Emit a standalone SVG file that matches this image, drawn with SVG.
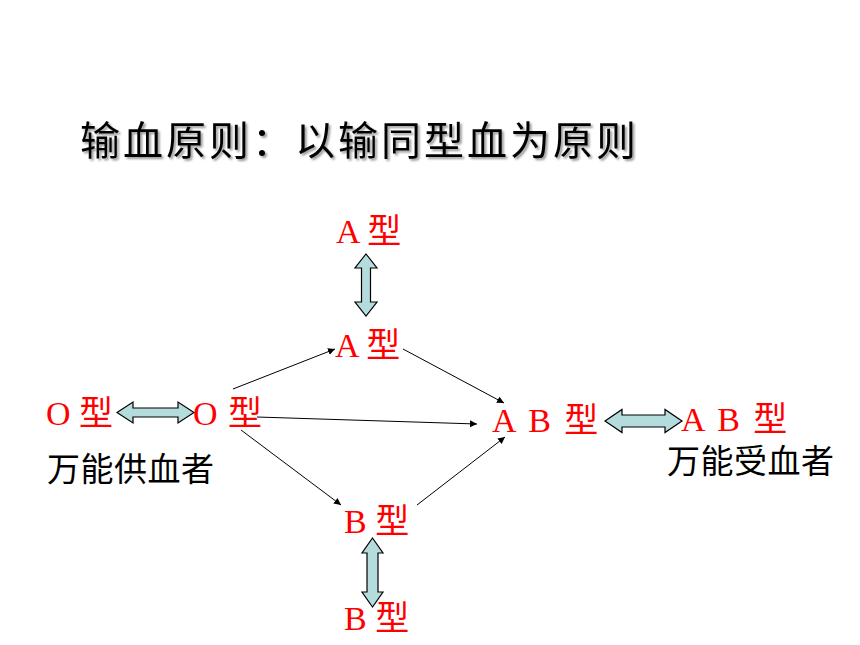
<svg xmlns="http://www.w3.org/2000/svg" width="860" height="645" viewBox="0 0 860 645">
<defs>
<marker id="ah" viewBox="0 0 10 10" refX="10" refY="5" markerWidth="7" markerHeight="7" markerUnits="userSpaceOnUse" orient="auto">
<path d="M0,0 L10,5 L0,10 Z" fill="#000"/>
</marker>
<filter id="sh" x="-5%" y="-20%" width="110%" height="150%">
<feGaussianBlur in="SourceAlpha" stdDeviation="1"/>
<feOffset dx="2" dy="2" result="b"/>
<feFlood flood-color="#000" flood-opacity="0.4"/>
<feComposite in2="b" operator="in"/>
<feMerge><feMergeNode/><feMergeNode in="SourceGraphic"/></feMerge>
</filter>
<style>
.t{font-family:"Noto Sans CJK SC","Liberation Sans",sans-serif;font-size:40px;letter-spacing:3px;fill:#000}
.r{font-family:"Liberation Serif","Noto Sans CJK SC",serif;font-size:34px;fill:#ff0000;white-space:pre}
.ab{letter-spacing:2.5px}
.k{font-family:"Noto Sans CJK SC","Liberation Sans",sans-serif;font-size:33px;letter-spacing:0.5px;fill:#000}
.ln{stroke:#000;stroke-width:1;fill:none;marker-end:url(#ah)}
.ba{fill:#b4dcdc;stroke:#000;stroke-width:1.2}
</style>
</defs>
<rect width="860" height="645" fill="#fff"/>
<g id="title">
<text class="t" x="80" y="155" filter="url(#sh)">输血原则：以输同型血为原则</text>
</g>
<g id="connectors">
<line class="ln" x1="233" y1="389" x2="335" y2="349"/>
<line class="ln" x1="403" y1="349" x2="504" y2="403"/>
<line class="ln" x1="257" y1="417" x2="477" y2="424"/>
<line class="ln" x1="241" y1="430" x2="341" y2="505"/>
<line class="ln" x1="417" y1="505" x2="505" y2="437"/>
<path class="ba" d="M117,412.5 L133,402 L133,408 L178,408 L178,402 L194,412.5 L178,423 L178,417 L133,417 L133,423 Z"/>
<path class="ba" d="M605,421 L622,409.5 L622,415 L665,415 L665,409.5 L682,421 L665,432.5 L665,427 L622,427 L622,432.5 Z"/>
<path class="ba" d="M366,254 L377,268 L370.5,268 L370.5,302 L377,302 L366,316 L355,302 L361.5,302 L361.5,268 L355,268 Z"/>
<path class="ba" d="M372.5,538 L383,553 L378,553 L378,592 L383,592 L372.5,607 L362,592 L367,592 L367,553 L362,553 Z"/>
</g>
<g id="node-a-top"><text class="r" x="336" y="243">A 型</text></g>
<g id="node-a-mid"><text class="r" x="335" y="357">A 型</text></g>
<g id="node-o-left"><text class="r" x="46" y="425">O 型</text></g>
<g id="node-o-right"><text class="r" x="193" y="425" letter-spacing="1">O 型</text></g>
<g id="node-ab-mid"><text class="r ab" x="492" y="432">A B 型</text></g>
<g id="node-ab-right"><text class="r ab" x="681" y="431">A B 型</text></g>
<g id="node-b-mid"><text class="r" x="344" y="533">B 型</text></g>
<g id="node-b-bot"><text class="r" x="344" y="630">B 型</text></g>
<g id="label-donor"><text class="k" x="47" y="481">万能供血者</text></g>
<g id="label-recipient"><text class="k" x="667" y="473">万能受血者</text></g>
</svg>
